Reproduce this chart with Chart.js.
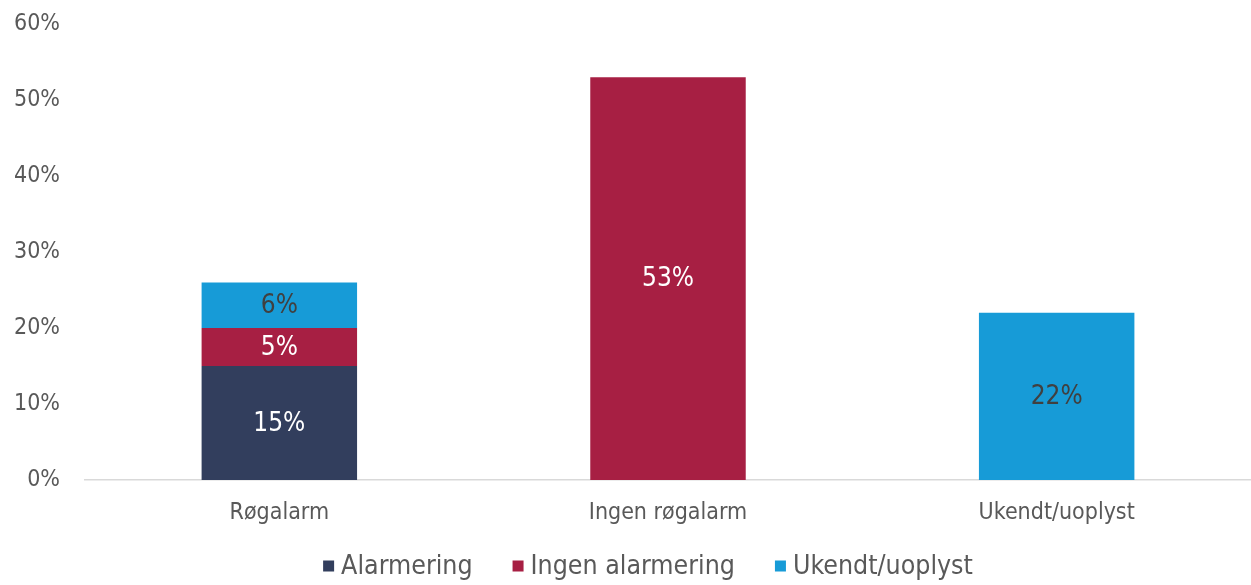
<!DOCTYPE html>
<html lang="no">
<head>
<meta charset="utf-8">
<title>Røgalarm og alarmering</title>
<script src="https://cdn.jsdelivr.net/npm/chart.js@4/dist/chart.umd.min.js"></script>
<style>
  html, body { margin: 0; padding: 0; background: #ffffff; }
  #wrap { position: relative; width: 1251px; height: 585px; }
</style>
</head>
<body>
<div id="wrap"><canvas id="chart"></canvas></div>
<script>
// Categories along the x axis
const categories = ['Røgalarm', 'Ingen røgalarm', 'Ukendt/uoplyst'];

// Stacked series (percent)
const alarmering = [15, 0, 0];
const ingenAlarmering = [5, 53, 0];
const ukendt = [6, 0, 22];

// Y axis tick values
const yTicks = [0, 10, 20, 30, 40, 50, 60];

const FONT = "'DejaVu Sans Condensed', 'DejaVu Sans', sans-serif";
const TEXT_GREY = '#595959';

const seriesStyle = [
  { label: 'Alarmering', data: alarmering, color: '#323e5d', text: '#ffffff' },
  { label: 'Ingen alarmering', data: ingenAlarmering, color: '#a71f43', text: '#ffffff' },
  { label: 'Ukendt/uoplyst', data: ukendt, color: '#179bd7', text: '#404040' }
];

// Percent labels centred in each bar segment
const segmentLabels = {
  id: 'segmentLabels',
  afterDatasetsDraw(chart) {
    const ctx = chart.ctx;
    ctx.save();
    ctx.font = '26px ' + FONT;
    ctx.textAlign = 'center';
    ctx.textBaseline = 'middle';
    chart.data.datasets.forEach((ds, i) => {
      const meta = chart.getDatasetMeta(i);
      meta.data.forEach((bar, j) => {
        const v = ds.data[j];
        if (!v) return;
        ctx.fillStyle = seriesStyle[i].text;
        ctx.fillText(v + '%', bar.x, (bar.y + bar.base) / 2 + 1);
      });
    });
    ctx.restore();
  }
};

// Legend row under the axis labels
const bottomLegend = {
  id: 'bottomLegend',
  afterDraw(chart) {
    const ctx = chart.ctx;
    const box = 11, boxGap = 7, itemGap = 40, cy = 566, centerX = 648;
    ctx.save();
    ctx.font = '26.5px ' + FONT;
    ctx.textBaseline = 'middle';
    ctx.textAlign = 'left';
    const items = chart.data.datasets.map(ds => ({
      text: ds.label, color: ds.backgroundColor, w: ctx.measureText(ds.label).width
    }));
    let total = 0;
    items.forEach((it, k) => { total += box + boxGap + it.w + (k < items.length - 1 ? itemGap : 0); });
    let x = centerX - total / 2;
    items.forEach(it => {
      ctx.fillStyle = it.color;
      ctx.fillRect(x, cy - box / 2, box, box);
      x += box + boxGap;
      ctx.fillStyle = TEXT_GREY;
      ctx.fillText(it.text, x, cy + 1);
      x += it.w + itemGap;
    });
    ctx.restore();
  }
};

new Chart(document.getElementById('chart'), {
  type: 'bar',
  data: {
    labels: categories,
    datasets: seriesStyle.map(s => ({
      label: s.label,
      data: s.data,
      backgroundColor: s.color,
      borderWidth: 0,
      barPercentage: 0.4,
      categoryPercentage: 1.0
    }))
  },
  options: {
    responsive: true,
    maintainAspectRatio: false,
    animation: false,
    layout: { padding: { top: 24, right: 0, bottom: 0, left: 0 } },
    plugins: {
      legend: { display: false },
      tooltip: { enabled: false }
    },
    scales: {
      x: {
        stacked: true,
        grid: { display: false, drawTicks: false },
        border: { display: true, color: '#d9d9d9', width: 1.5 },
        ticks: { color: TEXT_GREY, font: { family: FONT, size: 23 }, padding: 19 },
        afterFit(scale) {
          scale.height = 105;
          scale.paddingLeft = 0;
          scale.paddingRight = 0;
        }
      },
      y: {
        stacked: true,
        min: 0,
        max: 60,
        afterBuildTicks(scale) { scale.ticks = yTicks.map(v => ({ value: v })); },
        grid: { display: false, drawTicks: false },
        border: { display: false },
        ticks: {
          color: TEXT_GREY,
          font: { family: FONT, size: 23 },
          padding: 25,
          callback: v => v + '%'
        },
        afterFit(scale) {
          scale.width = 85;
          scale.paddingTop = 0;
          scale.paddingBottom = 0;
        }
      }
    }
  },
  plugins: [segmentLabels, bottomLegend]
});
</script>
</body>
</html>
